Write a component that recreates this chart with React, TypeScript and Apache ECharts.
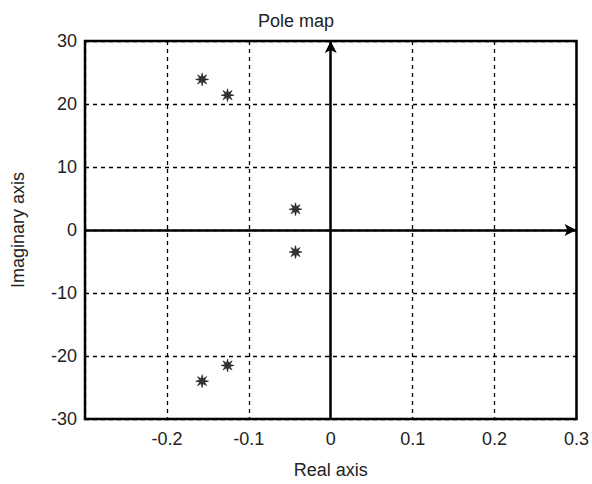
import React, { useEffect, useRef } from "react";
import * as echarts from "echarts";

const realParts = [-0.157, -0.126, -0.043, -0.043, -0.126, -0.157];
const imagParts = [23.9, 21.4, 3.3, -3.5, -21.5, -24.0];
const xTicks = { min: -0.3, max: 0.3, step: 0.1 };
const yTicks = { min: -30, max: 30, step: 10 };

const starPath =
  "path://M20 10 L13.7 11.5 L17.07 17.07 L11.5 13.7 L10 20 L8.5 13.7 L2.93 17.07 L6.3 11.5 L0 10 L6.3 8.5 L2.93 2.93 L8.5 6.3 L10 0 L11.5 6.3 L17.07 2.93 L13.7 8.5 Z";

export default function App() {
  const ref = useRef<HTMLDivElement>(null);
  useEffect(() => {
    if (!ref.current) return;
    const chart = echarts.init(ref.current, null, { renderer: "svg" });
    const font = "Liberation Sans";
    const dashed = { color: "#000", type: [4, 4] as any, width: 1.3 };
    chart.setOption({
      animation: false,
      backgroundColor: "#fff",
      title: {
        text: "Pole map",
        left: "center",
        top: 7,
        textStyle: { fontFamily: font, fontSize: 18, fontWeight: "normal", color: "#222" },
      },
      grid: {
        left: 85,
        right: 12,
        top: 41,
        bottom: 59,
        show: true,
        borderColor: "#000",
        borderWidth: 2.5,
        backgroundColor: "#fff",
      },
      xAxis: {
        type: "value",
        min: xTicks.min,
        max: xTicks.max,
        interval: xTicks.step,
        name: "Real axis",
        nameLocation: "middle",
        nameGap: 42,
        nameTextStyle: { fontFamily: font, fontSize: 18, color: "#222" },
        axisLine: { show: false },
        axisTick: { show: false },
        splitLine: { show: true, lineStyle: dashed },
        axisLabel: {
          fontFamily: font,
          fontSize: 18,
          color: "#222",
          margin: 11,
          formatter: (v: number) =>
            Math.abs(v - xTicks.min) < 1e-9 ? "" : String(Math.round(v * 10) / 10),
        },
      },
      yAxis: {
        type: "value",
        min: yTicks.min,
        max: yTicks.max,
        interval: yTicks.step,
        name: "Imaginary axis",
        nameLocation: "middle",
        nameGap: 58,
        nameTextStyle: { fontFamily: font, fontSize: 18, color: "#222" },
        axisLine: { show: false },
        axisTick: { show: false },
        splitLine: { show: true, lineStyle: dashed },
        axisLabel: { fontFamily: font, fontSize: 18, color: "#222", margin: 8 },
      },
      series: [
        {
          type: "scatter",
          data: realParts.map((x, i) => [x, imagParts[i]]),
          symbol: starPath,
          symbolSize: 13,
          itemStyle: { color: "#000", borderColor: "#000", borderWidth: 0.6 },
          markLine: {
            silent: true,
            symbol: ["none", "arrow"],
            symbolSize: [9, 12],
            label: { show: false },
            lineStyle: { color: "#000", type: "solid", width: 2.5 },
            data: [{ yAxis: 0 }, { xAxis: 0 }],
          },
          z: 5,
        },
      ],
    });
    return () => chart.dispose();
  }, []);
  return <div ref={ref} style={{ width: 592, height: 484, position: "absolute", left: 0, top: 0 }} />;
}
